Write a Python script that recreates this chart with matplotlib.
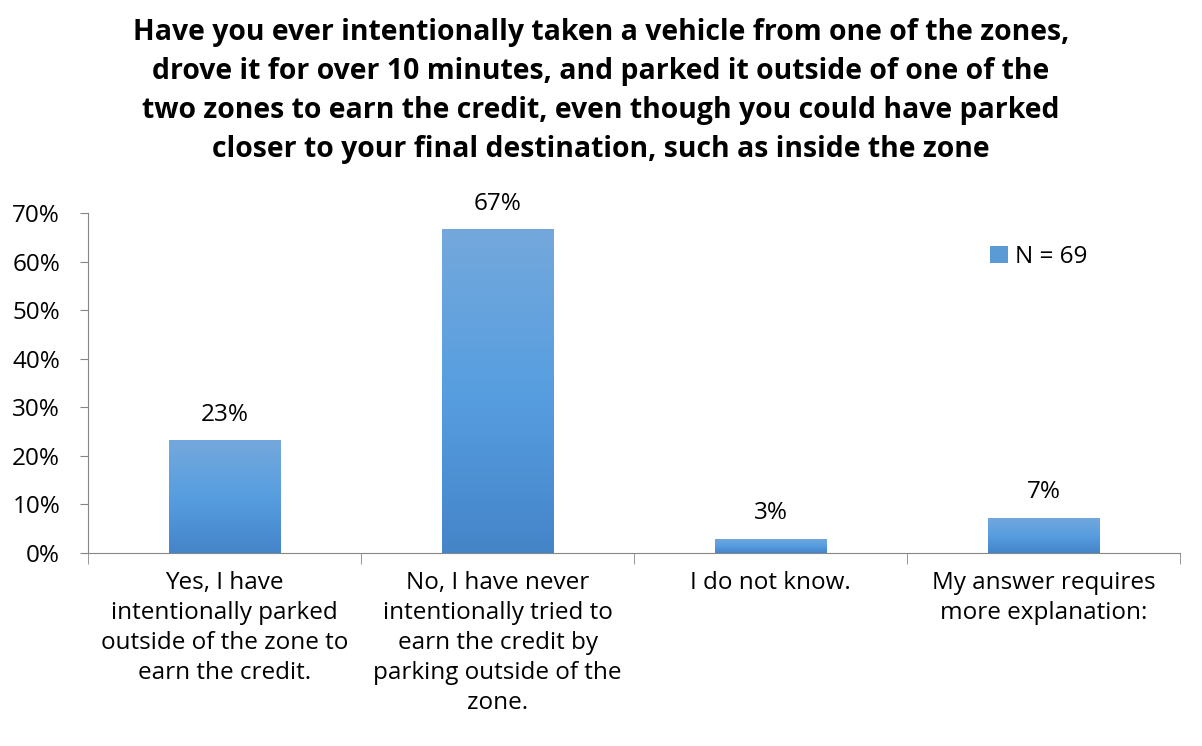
import matplotlib; matplotlib.use('Agg')
from matplotlib import pyplot as plt
import numpy as np

# survey answers (share of 69 respondents)
categories = ['Yes, I have\nintentionally parked\noutside of the zone to\nearn the credit.',
              'No, I have never\nintentionally tried to\nearn the credit by\nparking outside of the\nzone.',
              'I do not know.',
              'My answer requires\nmore explanation:']
shares = [16/69., 46/69., 2/69., 5/69.]
bar_labels = ['23%', '67%', '3%', '7%']
yticks = [0, 0.1, 0.2, 0.3, 0.4, 0.5, 0.6, 0.7]
ytick_labels = ['0%', '10%', '20%', '30%', '40%', '50%', '60%', '70%']
legend_label = 'N = 69'
title = ('Have you ever intentionally taken a vehicle from one of the zones,\n'
         'drove it for over 10 minutes, and parked it outside of one of the\n'
         'two zones to earn the credit, even though you could have parked\n'
         'closer to your final destination, such as inside the zone')

plt.rcParams['font.family'] = ['Open Sans', 'DejaVu Sans']
grey = '#868686'
fs = 17.5

fig = plt.figure(figsize=(12.02, 7.46), dpi=100)
ax = fig.add_axes([88/1202., 1-553/746., (1180-88)/1202., (553-213)/746.])

x = np.arange(len(categories))
bars = ax.bar(x, shares, width=0.41, color='#5b9bd5', zorder=2)

# vertical gradient like the excel fill
grad = np.linspace(0, 1, 256).reshape(-1, 1)
cmap = matplotlib.colors.LinearSegmentedColormap.from_list('g', ['#4485c8', '#579ee0', '#74a8dc'])
for b in bars:
	im = ax.imshow(grad, cmap=cmap, aspect='auto', origin='lower', zorder=3,
		extent=[b.get_x(), b.get_x() + b.get_width(), 0, b.get_height()])
	im.set_clip_path(b)

for i in range(len(shares)):
	ax.text(x[i], shares[i] + 0.028, bar_labels[i], ha='center', va='bottom', fontsize=fs)

ax.set_xlim(-0.5, len(categories) - 0.5)
ax.set_ylim(0, 0.7)
ax.set_yticks(yticks)
ax.set_yticklabels(ytick_labels, fontsize=fs)
ax.set_xticks(x)
ax.set_xticklabels(categories, fontsize=fs, linespacing=1.33, va='top')
ax.set_xticks(np.arange(-0.5, len(categories)), minor=True)
ax.tick_params(axis='x', which='major', length=0, pad=13)
ax.tick_params(axis='x', which='minor', length=8, color=grey, direction='out')
ax.tick_params(axis='y', length=6, color=grey, pad=14)

for s in ['top', 'right']:
	ax.spines[s].set_visible(False)
ax.spines['left'].set_color(grey)
ax.spines['bottom'].set_color(grey)

handle = matplotlib.patches.Patch(facecolor='#5b9bd5', edgecolor='none')
fig.legend([handle], [legend_label], loc='center left', bbox_to_anchor=(968/1202., 1-257/746.),
	frameon=False, fontsize=fs, handlelength=0.75, handleheight=0.75, handletextpad=0.3)

fig.text(0.5, 1-18/746., title, ha='center', va='top', fontsize=20.4, fontweight='bold', linespacing=1.45)

plt.savefig('out.png', dpi=100)
